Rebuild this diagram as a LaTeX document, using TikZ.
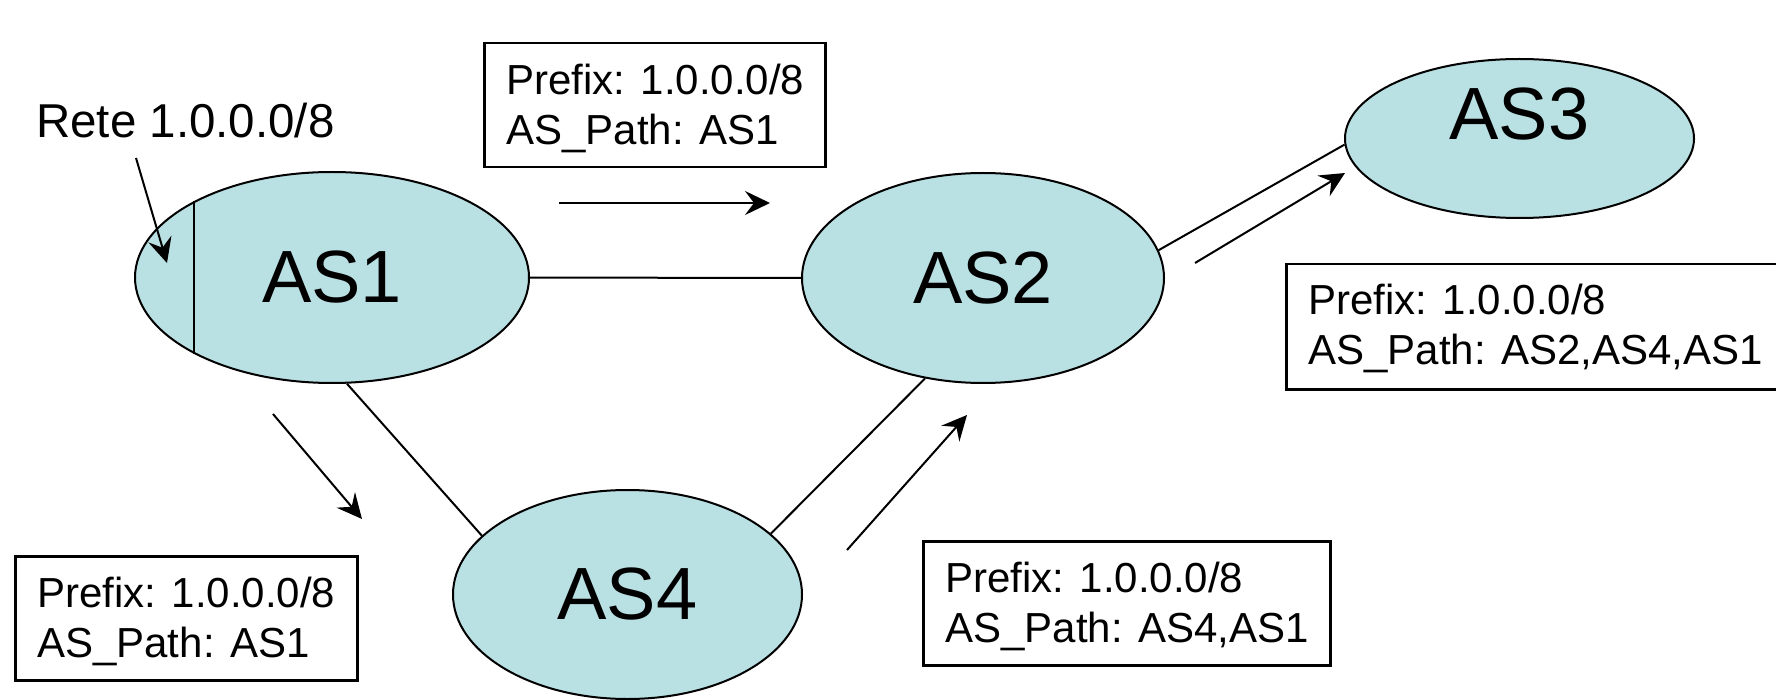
\documentclass[tikz,border=0pt]{standalone}
\usepackage{fontspec}
\setmainfont{Liberation Sans}
\usetikzlibrary{arrows.meta,shapes.geometric,calc}
\definecolor{asfill}{RGB}{185,224,227}
\newcommand\infolines[3]{\makebox[#1][l]{\begin{tabular}[t]{@{}l@{}}#2\\#3\end{tabular}}}
\begin{document}
\begin{tikzpicture}[x=1pt,y=-1pt,
  asnode/.style={ellipse, draw=black, line width=2pt, fill=asfill, inner sep=0pt, font=\fontsize{74}{80}\selectfont},
  infobox/.style={rectangle, draw=black, line width=2.5pt, fill=white, anchor=north west,
    inner xsep=22pt, inner ysep=0pt, text height=51pt, text depth=73pt, font=\fontsize{42}{50}\selectfont},
  link/.style={line width=2pt},
  flow/.style={line width=2pt, -{Stealth[length=25pt,width=24pt,inset=9pt]}},
]
\useasboundingbox (0,0) rectangle (1776,700);

% autonomous systems
\node[asnode, minimum width=394pt, minimum height=211pt] (as1) at (332,277.5) {AS1};
\node[asnode, minimum width=362pt, minimum height=210pt] (as2) at (983,278) {AS2};
\node[asnode, minimum width=349pt, minimum height=159pt,
      label={[font=\fontsize{74}{80}\selectfont, yshift=24pt]center:AS3}] (as3) at (1519.5,138.5) {};
\node[asnode, minimum width=349pt, minimum height=209pt] (as4) at (627.5,594.5) {AS4};

% links
\draw[link] (as1) -- (as2);
\draw[link] (as1.-82) -- (as4.158);
\draw[link] (as4.23) -- (as2.-120);
\draw[link] (as2.9) -- (as3.182);
\draw[link] (as1.151) -- (as1.209);

% network label
\node[font=\fontsize{47.5}{52}\selectfont, anchor=base west, inner sep=0pt] (rete) at (36,138) {Rete 1.0.0.0/8};
\coordinate (rs) at (136,158);
\coordinate (re) at (167,263);
\draw[flow] (rs) -- (re);

% announcement arrows
\coordinate (a1s) at (559,203);  \coordinate (a1e) at (770,203);
\coordinate (a2s) at (273,414);  \coordinate (a2e) at (362,519);
\coordinate (a3s) at (847,550);  \coordinate (a3e) at (967,415);
\coordinate (a4s) at (1195,263); \coordinate (a4e) at (1345,173);
\draw[flow] (a1s) -- (a1e);
\draw[flow] (a2s) -- (a2e);
\draw[flow] (a3s) -- (a3e);
\draw[flow] (a4s) -- (a4e);

% announcement boxes
\node[infobox] (b1) at (483,42) {\infolines{297pt}{Prefix: 1.0.0.0/8}{AS\_Path: AS1}};
\node[infobox] (b4) at (14,555) {\infolines{298pt}{Prefix: 1.0.0.0/8}{AS\_Path: AS1}};
\node[infobox] (b2) at (922,540) {\infolines{363pt}{Prefix: 1.0.0.0/8}{AS\_Path: AS4,AS1}};
\node[infobox, text height=50pt, text depth=75pt] (b3) at (1285,263) {\infolines{451pt}{Prefix: 1.0.0.0/8}{AS\_Path: AS2,AS4,AS1}};
\end{tikzpicture}
\end{document}
